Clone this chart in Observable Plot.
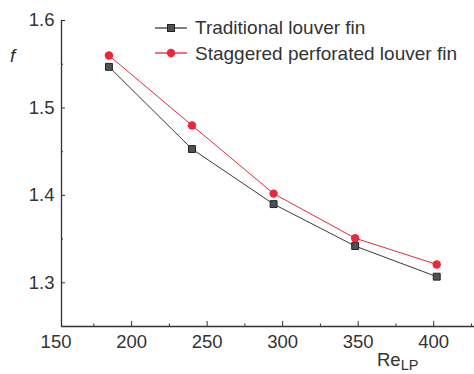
<!DOCTYPE html>
<html>
<head>
<meta charset="utf-8">
<script src="https://cdn.jsdelivr.net/npm/d3@7"></script>
<script src="https://cdn.jsdelivr.net/npm/@observablehq/plot@0.6"></script>
<style>
  html, body { margin: 0; padding: 0; background: #fff; }
  #wrap { position: relative; width: 474px; height: 374px; font-family: "Liberation Sans", Arial, sans-serif; color: #333; }
  #wrap svg { display: block; }
  .legend { position: absolute; left: 155px; top: 15px; font-size: 19px; line-height: 25.5px; }
  .legend .row { display: flex; align-items: center; white-space: nowrap; }
  .legend svg { margin-right: 8px; }
  .ylab { position: absolute; left: 10px; top: 45px; font-size: 19px; font-style: italic; }
  .xlab { position: absolute; left: 377px; top: 349px; font-size: 18.5px; white-space: nowrap; }
  .xlab sub { font-size: 14.5px; vertical-align: -4px; }
</style>
</head>
<body>
<div id="wrap"></div>
<script>
// ---- data ----
const re = [185, 240, 294, 348, 402];
const fTraditional = [1.547, 1.453, 1.390, 1.342, 1.307];
const fStaggered = [1.560, 1.480, 1.402, 1.351, 1.321];
const seriesNames = ["Traditional louver fin", "Staggered perforated louver fin"];
const xTickLabels = [150, 200, 250, 300, 350, 400];
const xMinorTicks = [175, 225, 275, 325, 375, 425];
const yTickLabels = [1.3, 1.4, 1.5, 1.6];
const yMinorTicks = [1.25, 1.35, 1.45, 1.55];
const xDomain = [153.6, 427];
const yDomain = [1.25, 1.6];

const colors = {trad: "#3b3b3b", tradFill: "#4a5458", stag: "#e8283c"};

const rows = [];
re.forEach((x, i) => rows.push({x, f: fTraditional[i], s: seriesNames[0]}));
re.forEach((x, i) => rows.push({x, f: fStaggered[i], s: seriesNames[1]}));
const trad = rows.filter(d => d.s === seriesNames[0]);
const stag = rows.filter(d => d.s === seriesNames[1]);

const axisColor = "#333";
const chart = Plot.plot({
  width: 474,
  height: 374,
  marginLeft: 61,
  marginRight: 0,
  marginTop: 20,
  marginBottom: 48,
  style: {fontFamily: '"Liberation Sans", Arial, sans-serif', fontSize: "18px", color: "#333", background: "#fff"},
  x: {domain: xDomain, label: null},
  y: {domain: yDomain, label: null},
  marks: [
    Plot.ruleX([xDomain[0]], {stroke: axisColor, strokeWidth: 1.3}),
    Plot.ruleY([yDomain[0]], {stroke: axisColor, strokeWidth: 1.3}),
    Plot.axisX({ticks: xTickLabels, tickSize: 0, tickPadding: 8, fill: "#333", fontSize: 18.5, label: null}),
    Plot.axisX({ticks: xTickLabels.filter(v => v >= xDomain[0]), tickSize: 5, dy: -5, tickFormat: () => "", stroke: axisColor, label: null}),
    Plot.axisX({ticks: xMinorTicks, tickSize: 2.5, dy: -2.5, tickFormat: () => "", stroke: axisColor, label: null}),
    Plot.axisY({ticks: yTickLabels, tickSize: 0, tickPadding: 7, tickFormat: ".1f", fill: "#333", fontSize: 18.5, label: null}),
    Plot.axisY({ticks: yTickLabels, tickSize: 4, dx: 4, tickFormat: () => "", stroke: axisColor, label: null}),
    Plot.axisY({ticks: yMinorTicks, tickSize: 2, dx: 2, tickFormat: () => "", stroke: axisColor, label: null}),
    Plot.line(trad, {x: "x", y: "f", stroke: colors.trad, strokeWidth: 1}),
    Plot.dot(trad, {x: "x", y: "f", symbol: "square", r: 3.9, fill: colors.tradFill, stroke: "#222", strokeWidth: 1}),
    Plot.line(stag, {x: "x", y: "f", stroke: colors.stag, strokeWidth: 1}),
    Plot.dot(stag, {x: "x", y: "f", r: 4.2, fill: colors.stag, stroke: "none"})
  ]
});

const wrap = document.getElementById("wrap");
wrap.appendChild(chart);

// legend
const legend = document.createElement("div");
legend.className = "legend";
const sw = [
  `<svg width="32" height="12"><line x1="0" y1="6" x2="32" y2="6" stroke="${colors.trad}" stroke-width="1.3"/><rect x="12.5" y="2.5" width="7" height="7" fill="${colors.tradFill}" stroke="#222"/></svg>`,
  `<svg width="32" height="12"><line x1="0" y1="6" x2="32" y2="6" stroke="${colors.stag}" stroke-width="1.3"/><circle cx="16" cy="6" r="4.2" fill="${colors.stag}"/></svg>`
];
seriesNames.forEach((name, i) => {
  const row = document.createElement("div");
  row.className = "row";
  row.innerHTML = sw[i] + `<span>${name}</span>`;
  legend.appendChild(row);
});
wrap.appendChild(legend);

const yl = document.createElement("div");
yl.className = "ylab";
yl.textContent = "f";
wrap.appendChild(yl);

const xl = document.createElement("div");
xl.className = "xlab";
xl.innerHTML = "Re<sub>LP</sub>";
wrap.appendChild(xl);
</script>
</body>
</html>
